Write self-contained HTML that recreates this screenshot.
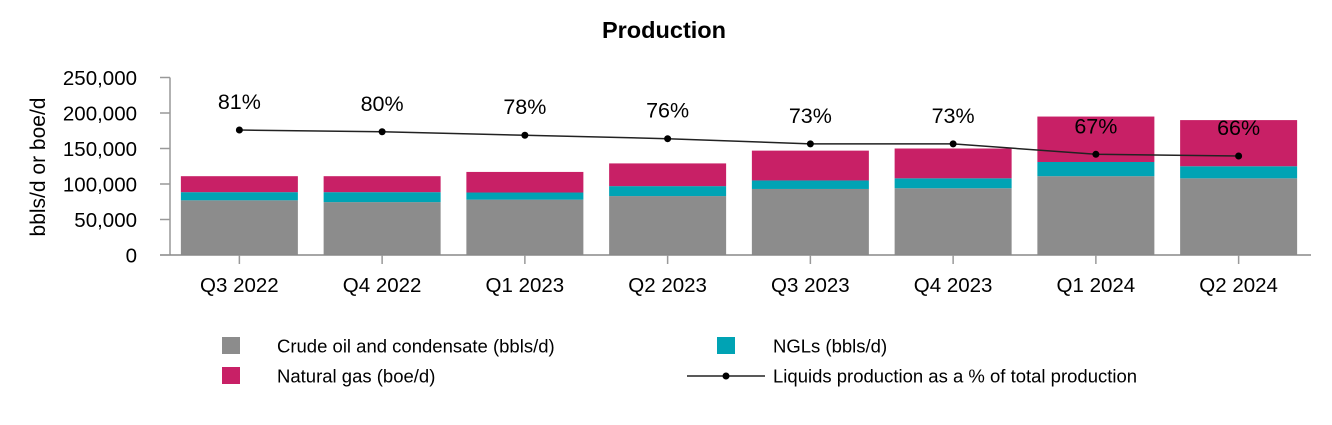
<!DOCTYPE html>
<html><head><meta charset="utf-8"><style>
body{margin:0;background:#fff;font-family:"Liberation Sans",Arial,sans-serif;}
svg text{font-family:"Liberation Sans",Arial,sans-serif;}
</style></head><body>
<svg id="chart" width="1332" height="420" viewBox="0 0 1332 420" xmlns="http://www.w3.org/2000/svg">
<text x="664" y="38" text-anchor="middle" font-size="23.5" font-weight="bold">Production</text>
<text transform="translate(45,167) rotate(-90)" text-anchor="middle" font-size="21">bbls/d or boe/d</text>
<g id="bars"></g>
<g id="axes"></g>
<g id="line"></g>
<g>
<rect x="222" y="337" width="18" height="17" fill="#8c8c8c"/>
<text x="277" y="352.5" font-size="18.5">Crude oil and condensate (bbls/d)</text>
<rect x="717" y="337" width="18" height="17" fill="#00a3b4"/>
<text x="773" y="352.5" font-size="18.5">NGLs (bbls/d)</text>
<rect x="222" y="367" width="18" height="17" fill="#c82066"/>
<text x="277" y="382.5" font-size="18.5">Natural gas (boe/d)</text>
<line x1="687" y1="376" x2="765" y2="376" stroke="#222" stroke-width="1.5"/>
<circle cx="726" cy="376" r="3.5" fill="#000"/>
<text x="773" y="382.5" font-size="18.5">Liquids production as a % of total production</text>
</g>
</svg>
<script>
const categories=["Q3 2022","Q4 2022","Q1 2023","Q2 2023","Q3 2023","Q4 2023","Q1 2024","Q2 2024"];
const crude=[77000,74500,78000,83000,93000,94000,111000,108000];
const ngl=[11500,14000,10000,14000,12000,14000,20000,17000];
const gas=[22500,22500,29000,32000,42000,42000,64000,65000];
const liquidsPct=[81,80,78,76,73,73,67,66];
const yTicks=[0,50000,100000,150000,200000,250000];
const NS="http://www.w3.org/2000/svg";
const x0=168,step=142.75,barW=117,yBase=255,yTop=77.5,yMax=250000;
const xc=i=>x0+step*(i+0.5);
const yv=v=>yBase-(v/yMax)*(yBase-yTop);
const yp=p=>270.4-p*1.733;
function mk(tag,attrs,parent){const e=document.createElementNS(NS,tag);for(const k in attrs)e.setAttribute(k,attrs[k]);parent.appendChild(e);return e;}
const bars=document.getElementById('bars'),axes=document.getElementById('axes'),line=document.getElementById('line');
categories.forEach((c,i)=>{
  const segs=[[crude[i],'#8c8c8c','crude'],[ngl[i],'#00a3b4','ngl'],[gas[i],'#c82066','gas']];
  let acc=0;
  segs.forEach(s=>{
    const r=mk('rect',{x:xc(i)-barW/2,y:yv(acc+s[0]),width:barW,height:yv(acc)-yv(acc+s[0]),fill:s[1]},bars);
    
    
    acc+=s[0];
  });
});
const ax=mk('line',{x1:170,y1:yTop,x2:170,y2:yBase,stroke:'#999','stroke-width':1.5},axes);


const xa=mk('line',{x1:160,y1:yBase,x2:1311,y2:yBase,stroke:'#888','stroke-width':1.5},axes);


yTicks.forEach(t=>{
  const tk=mk('line',{x1:160,y1:yv(t),x2:170,y2:yv(t),stroke:'#999','stroke-width':1.5},axes);
  
  
  const tx=mk('text',{x:137,y:yv(t)+7.5,'text-anchor':'end','font-size':20.5},axes);
  
  
  tx.textContent=t.toLocaleString('en-US');
});
categories.forEach((c,i)=>{
  const tk=mk('line',{x1:xc(i),y1:yBase,x2:xc(i),y2:yBase+9,stroke:'#999','stroke-width':1.5},axes);
  
  
  const tx=mk('text',{x:xc(i),y:292,'text-anchor':'middle','font-size':20.5},axes);
  
  
  tx.textContent=c;
});
const pts=liquidsPct.map((p,i)=>xc(i)+','+yp(p)).join(' ');
const pl=mk('polyline',{points:pts,fill:'none',stroke:'#222','stroke-width':1.5},line);


liquidsPct.forEach((p,i)=>{
  const d=mk('circle',{cx:xc(i),cy:yp(p),r:3.5,fill:'#000'},line);
  
  
  const t=mk('text',{x:xc(i),y:yp(p)-21,'text-anchor':'middle','font-size':21.5},line);
  
  
  t.textContent=p+'%';
});
</script>
</body></html>
